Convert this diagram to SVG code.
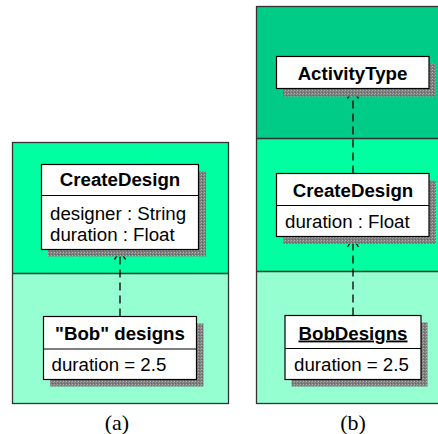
<svg xmlns="http://www.w3.org/2000/svg" width="438" height="434" viewBox="0 0 438 434">
<style>
.panel{stroke:#333;stroke-width:1.3}
.dark{fill:#00cc88}
.mid{fill:#00ffa0}
.pale{fill:#96ffd2}
.box{fill:#fff;stroke:#000;stroke-width:1.2}
.shadow{fill:url(#stip)}
.div{stroke:#000;stroke-width:1.2}
.hdr{font-family:"Liberation Sans",Arial,sans-serif;font-weight:bold;font-size:18.7px;text-anchor:middle;fill:#000}
.att{font-family:"Liberation Sans",Arial,sans-serif;font-size:18.7px;fill:#000}
.cap{font-family:"Liberation Serif","Times New Roman",serif;font-size:22px;text-anchor:middle;fill:#000}
.dep{stroke:#000;stroke-width:1.3;stroke-dasharray:8,5;fill:none}
.head{stroke:#000;stroke-width:1.3;fill:none;stroke-dasharray:none}
</style>
<defs>
<pattern id="stip" width="3" height="3" patternUnits="userSpaceOnUse">
<rect width="3" height="3" fill="#7c7c7c"/>
<rect x="0" y="0" width="1" height="1" fill="#b4b4b4"/>
<rect x="2" y="1" width="1" height="1" fill="#9a9a9a"/>
<rect x="1" y="2" width="1" height="1" fill="#666"/>
</pattern>
<marker id="open" viewBox="-12 -8 14 16" markerWidth="14" markerHeight="16" refX="0" refY="0" orient="auto" markerUnits="userSpaceOnUse" overflow="visible">
<path class="head" d="M-8.5,-5.5 L0,0 L-8.5,5.5"/>
</marker>
</defs>

<g id="panel-a">
<rect class="mid" x="12.5" y="142.5" width="216" height="131"/>
<rect class="pale" x="12.5" y="273.5" width="216" height="130"/>
<rect class="panel" fill="none" x="12.5" y="142.5" width="216" height="261"/>
<line class="panel" x1="12.5" y1="273.5" x2="228.5" y2="273.5"/>
</g>
<g id="panel-b">
<rect class="dark" x="256.5" y="6.5" width="184" height="132"/>
<rect class="mid" x="256.5" y="138.5" width="184" height="133"/>
<rect class="pale" x="256.5" y="271.5" width="184" height="132"/>
<rect class="panel" fill="none" x="256.5" y="6.5" width="184" height="397"/>
<line class="panel" x1="256.5" y1="138.5" x2="440" y2="138.5"/>
<line class="panel" x1="256.5" y1="271.5" x2="440" y2="271.5"/>
</g>

<g id="connectors">
<path class="dep" d="M120,316.5 L120,251" marker-end="url(#open)"/>
<path class="dep" d="M353,315.5 L353,238.5" marker-end="url(#open)"/>
<path class="dep" d="M353,173.5 L353,90" marker-end="url(#open)"/>
</g>

<g id="a-createdesign">
<rect class="shadow" x="48" y="171.5" width="158" height="85"/>
<rect class="box" x="41.5" y="164.5" width="157" height="85"/>
<line class="div" x1="41.5" y1="195.5" x2="198.5" y2="195.5"/>
<text class="hdr" x="120" y="186">CreateDesign</text>
<text class="att" x="50" y="220">designer : String</text>
<text class="att" x="50" y="240.5">duration : Float</text>
</g>

<g id="a-bobdesigns">
<rect class="shadow" x="50" y="323.5" width="153.5" height="63"/>
<rect class="box" x="43.5" y="316.5" width="153" height="63"/>
<line class="div" x1="43.5" y1="349" x2="196.5" y2="349"/>
<text class="hdr" x="120" y="340">"Bob" designs</text>
<text class="att" x="51.5" y="370.5">duration = 2.5</text>
</g>

<g id="b-activitytype">
<rect class="shadow" x="283" y="63.5" width="152.5" height="33"/>
<rect class="box" x="276.5" y="56.5" width="152.5" height="32"/>
<text class="hdr" x="352.5" y="80">ActivityType</text>
</g>

<g id="b-createdesign">
<rect class="shadow" x="283.5" y="180.5" width="152.5" height="63.5"/>
<rect class="box" x="276.5" y="173.5" width="152.5" height="63"/>
<line class="div" x1="276.5" y1="205.5" x2="429" y2="205.5"/>
<text class="hdr" x="353" y="196.5">CreateDesign</text>
<text class="att" x="285" y="227.5">duration : Float</text>
</g>

<g id="b-bobdesigns">
<rect class="shadow" x="291.5" y="322.5" width="136" height="64"/>
<rect class="box" x="285" y="315.5" width="136" height="64"/>
<line class="div" x1="285" y1="348.5" x2="421" y2="348.5"/>
<text class="hdr" x="353" y="339.5" text-decoration="underline">BobDesigns</text>
<text class="att" x="294" y="370.5">duration = 2.5</text>
</g>

<text class="cap" x="117" y="430">(a)</text>
<text class="cap" x="353" y="430">(b)</text>
</svg>
